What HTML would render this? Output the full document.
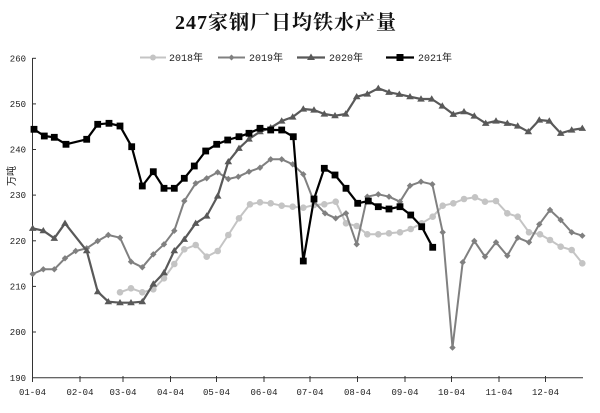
<!DOCTYPE html>
<html><head><meta charset="utf-8"><style>
html,body{margin:0;padding:0;background:#fff;}
svg{display:block;}
</style></head><body>
<svg width="600" height="413" viewBox="0 0 600 413" xmlns="http://www.w3.org/2000/svg">
<defs>
<marker id="mc" markerUnits="userSpaceOnUse" markerWidth="10" markerHeight="10" refX="5" refY="5" overflow="visible"><circle cx="5" cy="5" r="3.3" fill="#c4c4c4"/></marker>
<marker id="md" markerUnits="userSpaceOnUse" markerWidth="10" markerHeight="10" refX="5" refY="5" overflow="visible"><path d="M5 1.8 L8.2 5 L5 8.2 L1.8 5Z" fill="#808080"/></marker>
<marker id="mt" markerUnits="userSpaceOnUse" markerWidth="10" markerHeight="10" refX="5" refY="5" overflow="visible"><path d="M5 1.3 L8.8 7.6 L1.2 7.6Z" fill="#595959"/></marker>
<marker id="ms" markerUnits="userSpaceOnUse" markerWidth="10" markerHeight="10" refX="5" refY="5" overflow="visible"><rect x="1.6" y="1.6" width="6.8" height="6.8" fill="#000"/></marker>
</defs>
<rect width="600" height="413" fill="#fff"/>

<text x="286" y="29" text-anchor="middle" font-family="'Liberation Serif','Noto Serif CJK SC',serif" font-size="20" font-weight="bold" letter-spacing="1" fill="#111">247家钢厂日均铁水产量</text>

<!-- legend -->
<g font-family="'Liberation Mono','Noto Sans CJK SC',monospace" font-size="10" fill="#222">
<line x1="140" y1="57.5" x2="166" y2="57.5" stroke="#c4c4c4" stroke-width="2"/><circle cx="153" cy="57.5" r="3" fill="#c4c4c4"/>
<text x="169" y="61">2018年</text>
<line x1="218" y1="57.5" x2="245" y2="57.5" stroke="#808080" stroke-width="2"/><path d="M231.5 54.5 L234.5 57.5 L231.5 60.5 L228.5 57.5Z" fill="#808080"/>
<text x="249" y="61">2019年</text>
<line x1="297" y1="57.5" x2="325" y2="57.5" stroke="#595959" stroke-width="2.2"/><path d="M311 53.5 L315 60 L307 60Z" fill="#595959"/>
<text x="329" y="61">2020年</text>
<line x1="386" y1="57.5" x2="414" y2="57.5" stroke="#000" stroke-width="2.2"/><rect x="396.5" y="54" width="7" height="7" fill="#000"/>
<text x="418" y="61">2021年</text>
</g>

<!-- axes -->
<g stroke="#333" stroke-width="1" fill="none">
<line x1="32.5" y1="58" x2="32.5" y2="378"/>
<line x1="32" y1="377.7" x2="583" y2="377.7"/>
<line x1="32.5" y1="58.3" x2="36" y2="58.3"/>
<line x1="32.5" y1="103.9" x2="36" y2="103.9"/>
<line x1="32.5" y1="149.5" x2="36" y2="149.5"/>
<line x1="32.5" y1="195.1" x2="36" y2="195.1"/>
<line x1="32.5" y1="240.8" x2="36" y2="240.8"/>
<line x1="32.5" y1="286.4" x2="36" y2="286.4"/>
<line x1="32.5" y1="332" x2="36" y2="332"/>
<g>
<line x1="32.5" y1="376" x2="32.5" y2="382"/>
<line x1="80" y1="376" x2="80" y2="382"/>
<line x1="123" y1="376" x2="123" y2="382"/>
<line x1="170.5" y1="376" x2="170.5" y2="382"/>
<line x1="216.5" y1="376" x2="216.5" y2="382"/>
<line x1="264" y1="376" x2="264" y2="382"/>
<line x1="310" y1="376" x2="310" y2="382"/>
<line x1="357.5" y1="376" x2="357.5" y2="382"/>
<line x1="405" y1="376" x2="405" y2="382"/>
<line x1="451.5" y1="376" x2="451.5" y2="382"/>
<line x1="499" y1="376" x2="499" y2="382"/>
<line x1="545.5" y1="376" x2="545.5" y2="382"/>
</g>
</g>

<g font-family="'Liberation Mono',monospace" font-size="9" fill="#222" text-anchor="end">
<text x="26" y="61.5">260</text>
<text x="26" y="107">250</text>
<text x="26" y="152.5">240</text>
<text x="26" y="198">230</text>
<text x="26" y="244">220</text>
<text x="26" y="289.5">210</text>
<text x="26" y="335">200</text>
<text x="26" y="381">190</text>
</g>
<text transform="translate(15,176) rotate(-90)" text-anchor="middle" font-family="'Liberation Sans','Noto Sans CJK SC',sans-serif" font-size="10" fill="#222">万吨</text>

<g font-family="'Liberation Mono',monospace" font-size="9" fill="#222" text-anchor="middle">
<text x="32.5" y="395">01-04</text>
<text x="80" y="395">02-04</text>
<text x="123" y="395">03-04</text>
<text x="170.5" y="395">04-04</text>
<text x="216.5" y="395">05-04</text>
<text x="264" y="395">06-04</text>
<text x="310" y="395">07-04</text>
<text x="357.5" y="395">08-04</text>
<text x="405" y="395">09-04</text>
<text x="451.5" y="395">10-04</text>
<text x="499" y="395">11-04</text>
<text x="545.5" y="395">12-04</text>
</g>

<!-- 2018 -->
<polyline fill="none" stroke="#c4c4c4" stroke-width="2" stroke-linejoin="round" marker-start="url(#mc)" marker-mid="url(#mc)" marker-end="url(#mc)" points="120,292.3 131,288.3 142.3,292.3 153.3,289.3 164,278.3 174.3,264 184.3,249.3 195.7,245 206.7,256.7 217.7,251 228.3,235 239,218.3 250,204.3 260,202.3 270.7,203.3 281.7,205.7 292.7,206.7 303.3,207.7 314,205 324.3,204.3 335.7,201.7 346,223.3 356.7,226 367.3,234.3 378.3,234.3 389,233.3 400,232.3 410.7,229 421.7,223.3 432.7,216.7 442.7,205.7 453.3,203.3 464,199 475,197.3 485,201.7 496,201 507.3,213.3 517.7,216.7 529,232.3 540,234.3 550,240 560.7,246.7 571.7,250 582.3,263.3"/>

<!-- 2019 -->
<polyline fill="none" stroke="#808080" stroke-width="2" stroke-linejoin="round" marker-start="url(#md)" marker-mid="url(#md)" marker-end="url(#md)" points="32.7,274 43.3,269.3 54.3,269.3 65,258.3 75.7,251 86.7,248.3 97.7,241 108.3,235 120,237.7 131,261.7 142.3,267.3 153.3,254.3 164,244.3 174.3,230.7 184.3,201 195.7,183.3 206.7,178.3 217.7,172.3 228.3,179 238.3,176.7 249,171.7 260,167.7 270.7,159.3 281.7,159.3 292.7,164.3 303.3,174.3 314,201.7 325,213.3 335.7,218.3 346,213.3 356.7,244.3 367.3,196.7 378.3,194.3 389,196.7 400,201.7 410,185.7 421,181.7 432.3,184.3 442.7,232.3 452.5,347.6 462.7,262.3 474.3,241 485,256.7 496,242.3 507.3,255.7 517.7,237.7 529,242.3 539.3,224.3 550,210 560.7,220 571.7,232.3 582.3,235.7"/>

<!-- 2020 -->
<polyline fill="none" stroke="#595959" stroke-width="2.2" stroke-linejoin="round" marker-start="url(#mt)" marker-mid="url(#mt)" marker-end="url(#mt)" points="32.7,228.3 43.3,230.7 54.3,238.3 65,223.3 86.7,250.7 97.7,291.7 108.3,301.7 120,302.7 131,302.7 142.3,301.7 153.3,284 164,272.7 174.3,250.7 184.3,239.3 195.7,223.3 206.7,216 217.7,196 228.3,161.7 239,148.3 249,139 260,131.7 270.7,127.7 281.7,121 292.7,117 303.3,109 314,110 324.3,114 335,115.7 345.7,114 356.7,96.7 367.3,94 378.3,88.3 389,92.3 399.3,94.3 410,96.7 421,99 431.7,99 442.3,106 453.3,114.3 464,111.7 474.3,116 485.7,123.3 496,121 507.3,123.3 517.7,126 528.3,131.7 539.3,120 549.3,121 560.7,133.3 571.7,130 582.3,128.3"/>

<!-- 2021 -->
<polyline fill="none" stroke="#000" stroke-width="2.2" stroke-linejoin="round" marker-start="url(#ms)" marker-mid="url(#ms)" marker-end="url(#ms)" points="34,129.3 44.3,136 54.3,137.3 66,144.3 86.7,139.3 97.7,124.3 109,123.3 120,126 131.7,146.7 142.3,186 153.3,171.7 164,188.3 174.3,188.3 184.3,178.3 194.3,166 205.7,151 216.7,144.3 227.7,140 239,136.7 249,133.3 260,128.3 270.7,130 281.7,130 293.3,136.7 303.3,261 314,199 324.3,168.3 335,175 346,188.3 357.7,203.3 368.3,201 378.3,206.7 389,209 400,206.7 410.7,215 421.7,226.7 432.7,247.3"/>
</svg>
</body></html>
